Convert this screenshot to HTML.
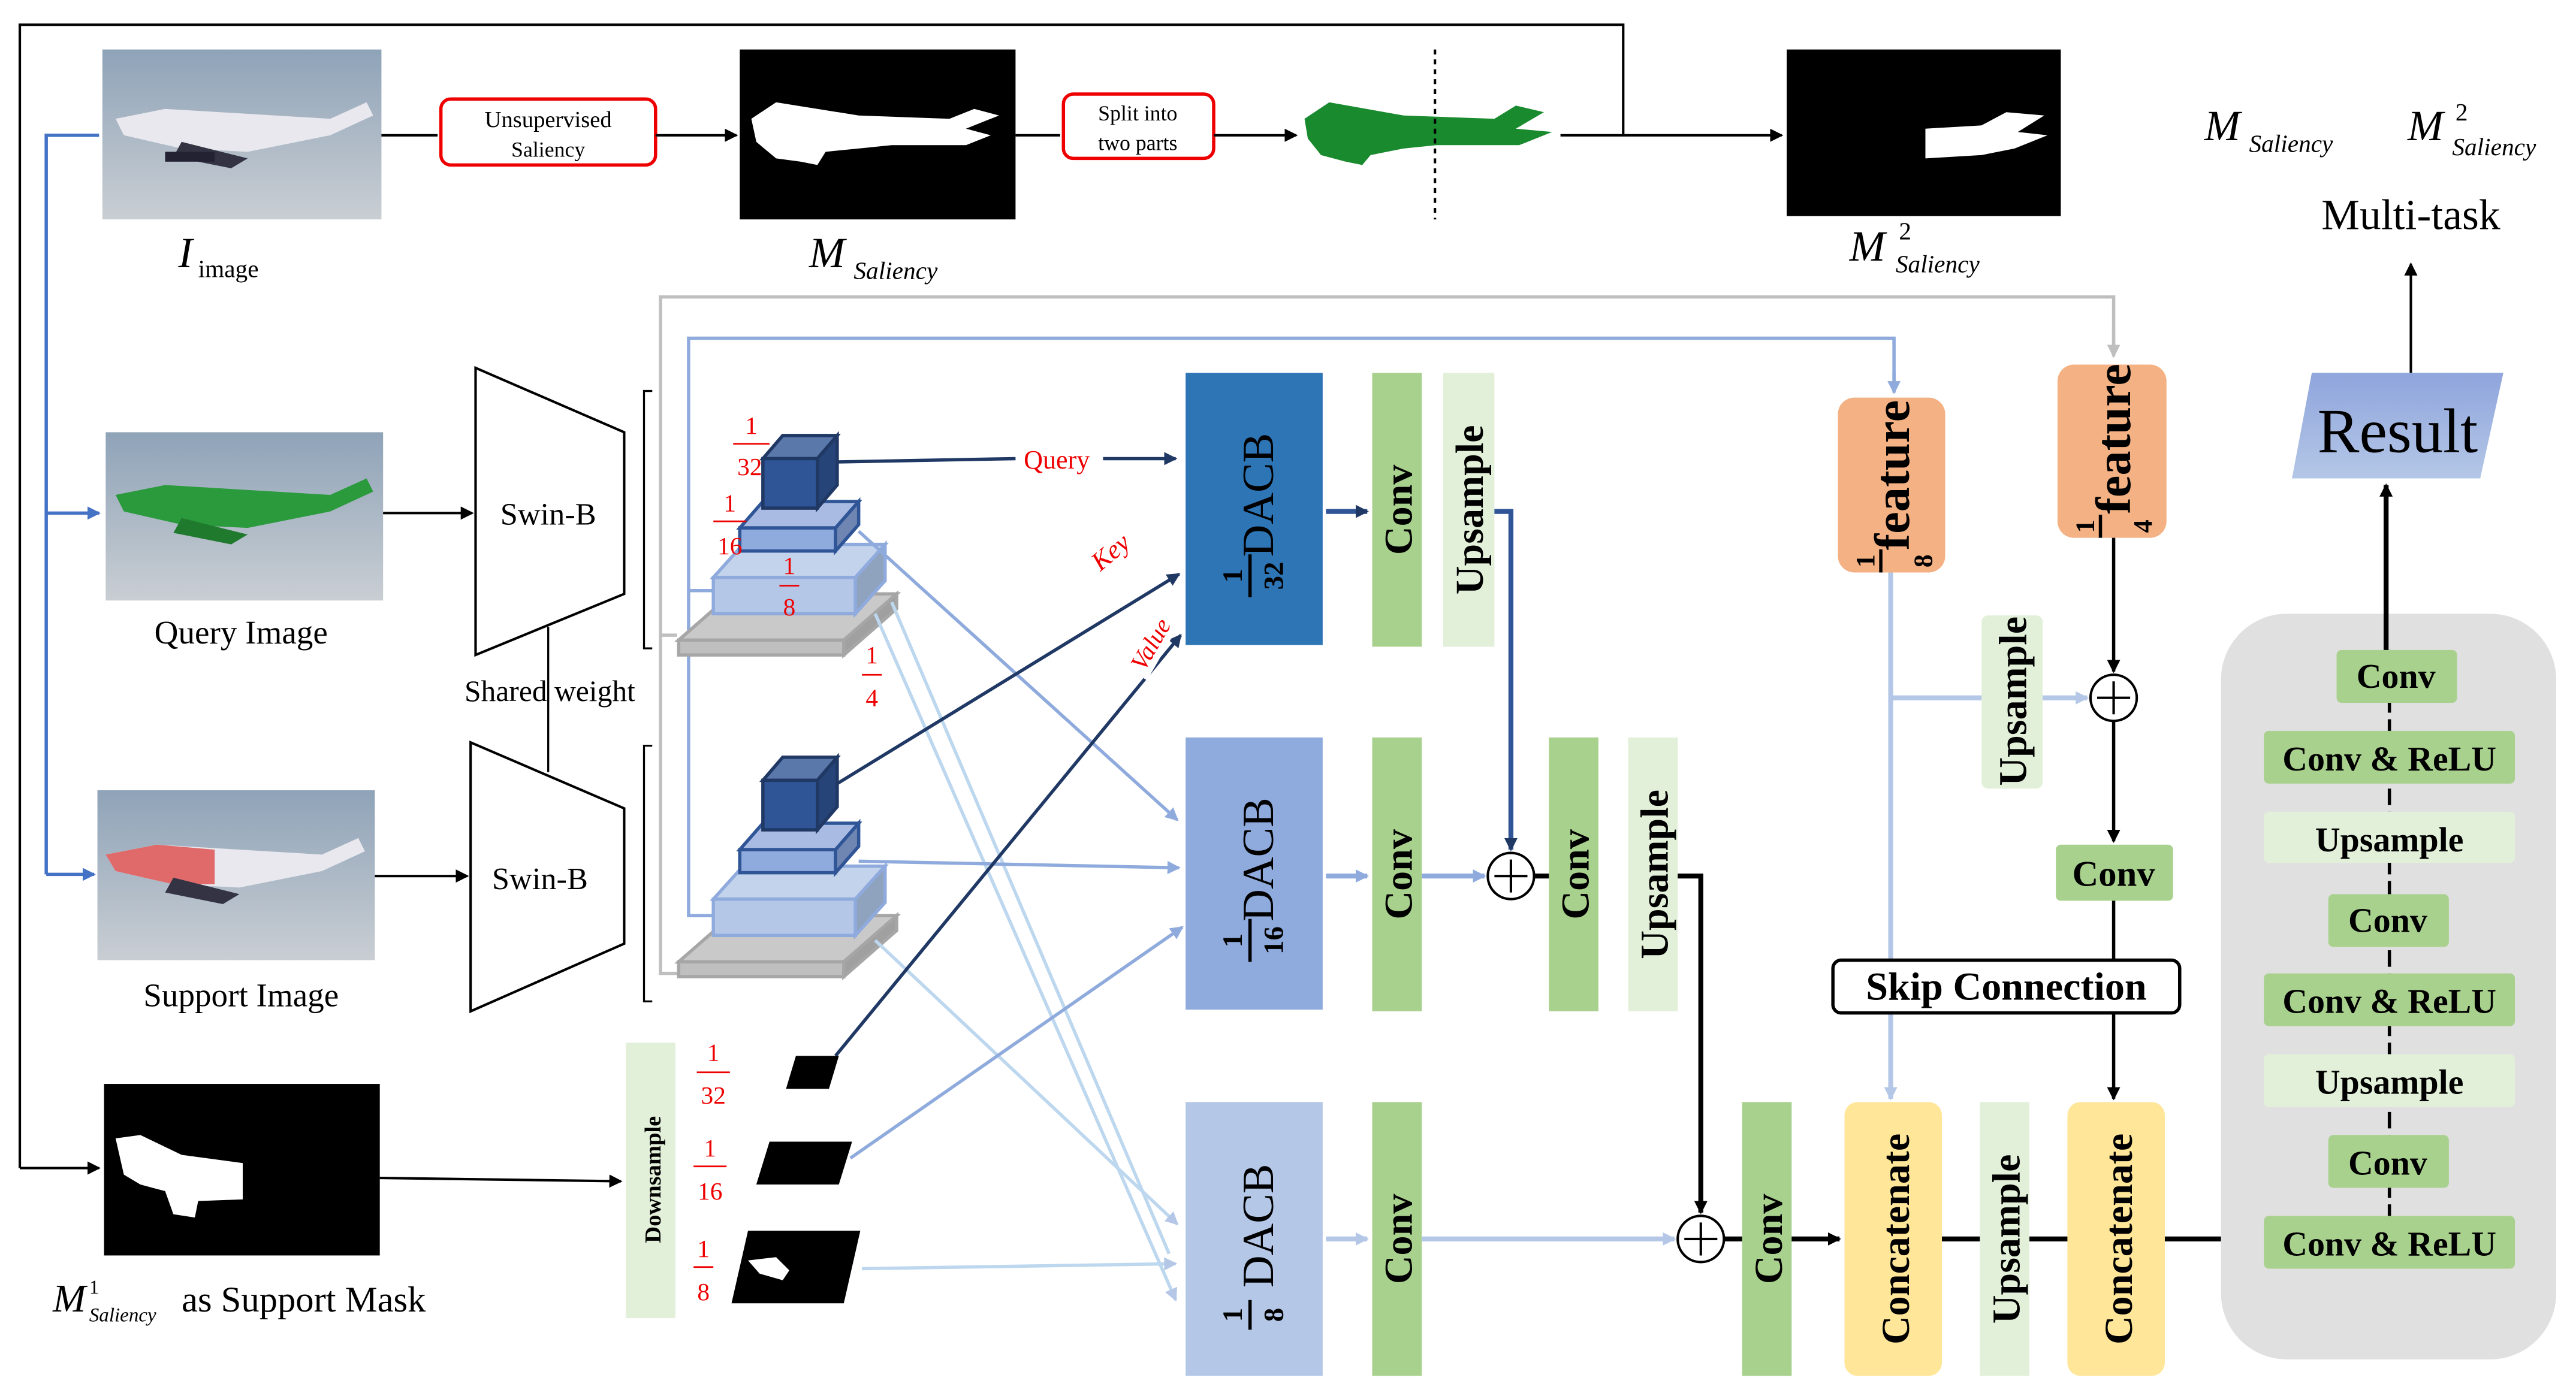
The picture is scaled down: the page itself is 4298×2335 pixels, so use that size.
<!DOCTYPE html>
<html><head><meta charset="utf-8">
<style>
html,body{margin:0;padding:0;background:#fff;}
svg{display:block;}
text{font-family:"Liberation Serif",serif;}
</style></head>
<body>
<svg width="4298" height="2335" viewBox="0 0 1560 848" preserveAspectRatio="none" xmlns="http://www.w3.org/2000/svg">
<defs>
<marker id="ak" markerWidth="8" markerHeight="8" refX="7" refY="4" orient="auto" markerUnits="userSpaceOnUse"><path d="M0,0 L8,4 L0,8 z" fill="#000"/></marker>
<marker id="an" markerWidth="8" markerHeight="8" refX="7" refY="4" orient="auto" markerUnits="userSpaceOnUse"><path d="M0,0 L8,4 L0,8 z" fill="#203864"/></marker>
<marker id="ab" markerWidth="8" markerHeight="8" refX="7" refY="4" orient="auto" markerUnits="userSpaceOnUse"><path d="M0,0 L8,4 L0,8 z" fill="#4472c4"/></marker>
<marker id="am" markerWidth="8" markerHeight="8" refX="7" refY="4" orient="auto" markerUnits="userSpaceOnUse"><path d="M0,0 L8,4 L0,8 z" fill="#8faadc"/></marker>
<marker id="al" markerWidth="8" markerHeight="8" refX="7" refY="4" orient="auto" markerUnits="userSpaceOnUse"><path d="M0,0 L8,4 L0,8 z" fill="#b4c7e7"/></marker>
<marker id="ag" markerWidth="8" markerHeight="8" refX="7" refY="4" orient="auto" markerUnits="userSpaceOnUse"><path d="M0,0 L8,4 L0,8 z" fill="#bfbfbf"/></marker>
<linearGradient id="sky" x1="0" y1="0" x2="0" y2="1"><stop offset="0" stop-color="#8fa3b8"/><stop offset="1" stop-color="#c9ced3"/></linearGradient>
<linearGradient id="res" x1="0" y1="0" x2="0" y2="1"><stop offset="0" stop-color="#8fa5dc"/><stop offset="1" stop-color="#b4c7e7"/></linearGradient>
</defs>

<polyline points="12,708 12,15 983,15 983,82" fill="none" stroke="#000" stroke-width="1.5"/>
<line x1="12" y1="708" x2="60" y2="708" stroke="#000" stroke-width="1.5" marker-end="url(#ak)"/>
<line x1="945" y1="82" x2="1079" y2="82" stroke="#000" stroke-width="1.5" marker-end="url(#ak)"/>

<polyline points="60,82 28,82 28,530" fill="none" stroke="#4472c4" stroke-width="2"/>
<line x1="28" y1="311" x2="60" y2="311" stroke="#4472c4" stroke-width="2" marker-end="url(#ab)"/>
<line x1="28" y1="530" x2="57" y2="530" stroke="#4472c4" stroke-width="2" marker-end="url(#ab)"/>

<rect x="62" y="30" width="169" height="103" fill="url(#sky)"/>
<path d="M70,72 L100,66 L200,72 L222,62 L226,70 L200,82 L150,92 L110,90 L75,82 z" fill="#e8e8ee"/>
<path d="M110,86 L150,96 L140,102 L105,95 z" fill="#334"/>
<rect x="100" y="92" width="30" height="6" fill="#223"/>
<rect x="64" y="262" width="168" height="102" fill="url(#sky)"/>
<path d="M70,300 L100,294 L200,300 L222,290 L226,298 L200,310 L150,320 L110,318 L75,310 z" fill="#2a9a3c"/>
<path d="M110,314 L150,324 L140,330 L105,323 z" fill="#1f7a2e"/>
<rect x="59" y="479" width="168" height="103" fill="url(#sky)"/>
<path d="M64,518 L95,512 L195,518 L217,508 L221,516 L195,528 L145,538 L105,536 L70,528 z" fill="#e8e8ee"/>
<path d="M64,518 L95,512 L130,515 L130,536 L105,536 L70,528 z" fill="#e06a6a"/>
<path d="M105,532 L145,542 L135,548 L100,541 z" fill="#334"/>

<line x1="231" y1="82" x2="265" y2="82" stroke="#000" stroke-width="1.5"/>
<rect x="267" y="60" width="130" height="40" rx="6" fill="#fff" stroke="#e00" stroke-width="2"/>
<text x="332" y="77" font-size="14" text-anchor="middle">Unsupervised</text>
<text x="332" y="95" font-size="13" text-anchor="middle">Saliency</text>
<line x1="397" y1="82" x2="446" y2="82" stroke="#000" stroke-width="1.5" marker-end="url(#ak)"/>
<rect x="448" y="30" width="167" height="103" fill="#000"/>
<path d="M455,72 L470,62 L520,70 L575,72 L590,66 L605,70 L585,78 L600,82 L585,88 L540,88 L520,90 L500,92 L495,100 L485,98 L470,96 L458,86 z" fill="#fff"/>
<line x1="615" y1="82" x2="642" y2="82" stroke="#000" stroke-width="1.5"/>
<rect x="644" y="57" width="91" height="39" rx="6" fill="#fff" stroke="#e00" stroke-width="2"/>
<text x="689" y="73" font-size="13" text-anchor="middle">Split into</text>
<text x="689" y="91" font-size="13" text-anchor="middle">two parts</text>
<line x1="735" y1="82" x2="785" y2="82" stroke="#000" stroke-width="1.5" marker-end="url(#ak)"/>
<path d="M790,72 L805,62 L850,70 L905,72 L918,64 L935,68 L918,78 L940,80 L920,88 L870,88 L850,90 L830,94 L825,100 L815,98 L800,94 L792,84 z" fill="#1a8a2e"/>
<line x1="869" y1="30" x2="869" y2="133" stroke="#000" stroke-width="1.5" stroke-dasharray="3,3"/>
<rect x="1082" y="30" width="166" height="101" fill="#000"/>
<path d="M1166,78 L1200,76 L1215,68 L1238,70 L1222,80 L1240,82 L1220,90 L1200,94 L1166,96 z" fill="#fff"/>

<text x="108" y="162" font-size="26" font-style="italic">I</text><text x="120" y="168" font-size="15">image</text>
<text x="490" y="162" font-size="26" font-style="italic">M</text><text x="517" y="169" font-size="15" font-style="italic">Saliency</text>
<text x="1120" y="158" font-size="26" font-style="italic">M</text><text x="1150" y="145" font-size="15">2</text><text x="1148" y="165" font-size="15" font-style="italic">Saliency</text>
<text x="1335" y="85" font-size="26" font-style="italic">M</text><text x="1362" y="92" font-size="15" font-style="italic">Saliency</text>
<text x="1458" y="85" font-size="26" font-style="italic">M</text><text x="1487" y="73" font-size="15">2</text><text x="1485" y="94" font-size="15" font-style="italic">Saliency</text>
<text x="1460" y="139" font-size="26" text-anchor="middle">Multi-task</text>
<line x1="1460" y1="226" x2="1460" y2="160" stroke="#000" stroke-width="1.5" marker-end="url(#ak)"/>

<text x="146" y="390" font-size="20" text-anchor="middle">Query Image</text>
<text x="146" y="610" font-size="20" text-anchor="middle">Support Image</text>

<line x1="232" y1="311" x2="286" y2="311" stroke="#000" stroke-width="1.5" marker-end="url(#ak)"/>
<line x1="227" y1="531" x2="283" y2="531" stroke="#000" stroke-width="1.5" marker-end="url(#ak)"/>
<polygon points="288,223 378,262 378,360 288,397" fill="#fff" stroke="#000" stroke-width="1.5"/>
<polygon points="285,450 378,490 378,572 285,613" fill="#fff" stroke="#000" stroke-width="1.5"/>
<text x="332" y="318" font-size="19" text-anchor="middle">Swin-B</text>
<text x="327" y="539" font-size="19" text-anchor="middle">Swin-B</text>
<line x1="332" y1="380" x2="332" y2="468" stroke="#000" stroke-width="1.2"/>
<rect x="278" y="408" width="112" height="22" fill="#fff"/>
<text x="333" y="425" font-size="18" text-anchor="middle">Shared weight</text>
<line x1="332" y1="408" x2="332" y2="430" stroke="#000" stroke-width="1.2"/>
<polyline points="395,237 390,237 390,393 395,393" fill="none" stroke="#000" stroke-width="1.2"/>
<polyline points="395,452 390,452 390,607 395,607" fill="none" stroke="#000" stroke-width="1.2"/>

<polyline points="410,385 400,385 400,180 1280,180 1280,212" fill="none" stroke="#bfbfbf" stroke-width="2"/>
<polyline points="410,590 400,590 400,385" fill="none" stroke="#bfbfbf" stroke-width="2"/>
<line x1="1280" y1="200" x2="1280" y2="216" stroke="#bfbfbf" stroke-width="2" marker-end="url(#ag)"/>
<polyline points="432,358 417,358 417,205 1147,205 1147,232" fill="none" stroke="#8faadc" stroke-width="2"/>
<polyline points="432,555 417,555 417,358" fill="none" stroke="#8faadc" stroke-width="2"/>
<line x1="1147" y1="225" x2="1147" y2="238" stroke="#8faadc" stroke-width="2" marker-end="url(#am)"/>

<g id="pyr">
<polygon points="411,388 443,360 543,360 511,388" fill="#c9c9c9" stroke="#a6a6a6" stroke-width="2"/>
<rect x="411" y="388" width="100" height="9" fill="#bfbfbf" stroke="#a6a6a6" stroke-width="2"/>
<polygon points="511,388 543,360 543,369 511,397" fill="#a0a0a0" stroke="#a6a6a6" stroke-width="2"/>
<polygon points="432,350 450,330 536,330 518,350" fill="#c3d3ec" stroke="#8faadc" stroke-width="2"/>
<rect x="432" y="350" width="86" height="22" fill="#b4c7e7" stroke="#8faadc" stroke-width="2"/>
<polygon points="518,350 536,330 536,352 518,372" fill="#8fa3bf" stroke="#8faadc" stroke-width="2"/>
<polygon points="448,320 462,304 520,304 506,320" fill="#a9bbe2" stroke="#2f5597" stroke-width="2"/>
<rect x="448" y="320" width="58" height="14" fill="#8faadc" stroke="#2f5597" stroke-width="2"/>
<polygon points="506,320 520,304 520,318 506,334" fill="#6f86b3" stroke="#2f5597" stroke-width="2"/>
<polygon points="462,278 474,264 507,264 495,278" fill="#5b78ab" stroke="#203864" stroke-width="2"/>
<rect x="462" y="278" width="33" height="30" fill="#2f5597" stroke="#203864" stroke-width="2"/>
<polygon points="495,278 507,264 507,294 495,308" fill="#264478" stroke="#203864" stroke-width="2"/>
</g>
<use href="#pyr" transform="translate(0,195)"/>

<g fill="#e00" font-size="15" text-anchor="middle">
<text x="455" y="263">1</text><line x1="444" y1="269" x2="466" y2="269" stroke="#e00"/><text x="454" y="288">32</text>
<text x="442" y="310">1</text><line x1="432" y1="316" x2="452" y2="316" stroke="#e00"/><text x="442" y="336">16</text>
<text x="478" y="348">1</text><line x1="472" y1="355" x2="484" y2="355" stroke="#e00"/><text x="478" y="373">8</text>
<text x="528" y="402">1</text><line x1="522" y1="409" x2="534" y2="409" stroke="#e00"/><text x="528" y="428">4</text>
<text x="432" y="643">1</text><line x1="422" y1="650" x2="442" y2="650" stroke="#e00"/><text x="432" y="669">32</text>
<text x="430" y="701">1</text><line x1="420" y1="707" x2="440" y2="707" stroke="#e00"/><text x="430" y="727">16</text>
<text x="426" y="762">1</text><line x1="420" y1="768" x2="432" y2="768" stroke="#e00"/><text x="426" y="788">8</text>
</g>

<line x1="507" y1="280" x2="615" y2="278" stroke="#203864" stroke-width="2"/>
<text x="620" y="284" font-size="16" fill="#e00">Query</text>
<line x1="668" y1="278" x2="712" y2="278" stroke="#203864" stroke-width="2" marker-end="url(#an)"/>
<line x1="520" y1="322" x2="713" y2="497" stroke="#8faadc" stroke-width="2" marker-end="url(#am)"/>
<line x1="530" y1="372" x2="712" y2="788" stroke="#bdd7ee" stroke-width="2" marker-end="url(#al)"/>
<line x1="540" y1="365" x2="708" y2="760" stroke="#bdd7ee" stroke-width="2"/>
<line x1="507" y1="475" x2="714" y2="348" stroke="#203864" stroke-width="2" marker-end="url(#an)"/>
<line x1="520" y1="522" x2="714" y2="526" stroke="#8faadc" stroke-width="2" marker-end="url(#am)"/>
<line x1="530" y1="570" x2="713" y2="742" stroke="#bdd7ee" stroke-width="2" marker-end="url(#al)"/>
<line x1="506" y1="640" x2="715" y2="385" stroke="#203864" stroke-width="2" marker-end="url(#an)"/>
<line x1="515" y1="702" x2="716" y2="562" stroke="#8faadc" stroke-width="2" marker-end="url(#am)"/>
<line x1="522" y1="769" x2="712" y2="766" stroke="#bdd7ee" stroke-width="2" marker-end="url(#al)"/>
<rect x="655" y="322" width="34" height="20" fill="#fff" transform="rotate(-40 672 332)"/>
<text x="672" y="340" font-size="16" fill="#e00" font-style="italic" text-anchor="middle" transform="rotate(-40 672 334)">Key</text>
<rect x="676" y="380" width="40" height="20" fill="#fff" transform="rotate(-60 696 390)"/>
<text x="696" y="396" font-size="15" fill="#e00" font-style="italic" text-anchor="middle" transform="rotate(-60 696 390)">Value</text>

<rect x="63" y="657" width="167" height="104" fill="#000"/>
<path d="M70,690 L85,688 L110,700 L147,705 L147,727 L120,728 L118,738 L105,736 L100,722 L85,718 L75,712 z" fill="#fff"/>
<line x1="230" y1="714" x2="376" y2="716" stroke="#000" stroke-width="1.5" marker-end="url(#ak)"/>
<rect x="379" y="632" width="30" height="167" fill="#e2f0d9"/>
<text transform="translate(400,715) rotate(-90)" font-size="14" font-weight="bold" text-anchor="middle">Downsample</text>
<polygon points="482,640 508,640 502,660 476,660" fill="#000"/>
<polygon points="466,692 516,692 508,718 458,718" fill="#000"/>
<polygon points="453,746 521,746 511,790 443,790" fill="#000"/>
<path d="M453,764 L470,762 L478,770 L474,776 L460,772 z" fill="#fff"/>
<text x="32" y="795" font-size="24" font-style="italic">M</text><text x="54" y="784" font-size="12">1</text><text x="54" y="801" font-size="12" font-style="italic">Saliency</text>
<text x="110" y="795" font-size="22">as Support Mask</text>

<rect x="718" y="226" width="83" height="165" fill="#2e75b6"/>
<rect x="718" y="447" width="83" height="165" fill="#8faadc"/>
<rect x="718" y="668" width="83" height="166" fill="#b4c7e7"/>
<g font-size="27" text-anchor="middle">
<text transform="translate(771,300) rotate(-90)">DACB</text>
<text transform="translate(771,521) rotate(-90)">DACB</text>
<text transform="translate(771,743) rotate(-90)">DACB</text>
</g>
<g font-size="17" font-weight="bold" text-anchor="middle">
<text transform="translate(752,349) rotate(-90)">1</text><line x1="757" y1="336" x2="757" y2="362" stroke="#000" stroke-width="2"/><text transform="translate(777,349) rotate(-90)">32</text>
<text transform="translate(752,570) rotate(-90)">1</text><line x1="757" y1="557" x2="757" y2="583" stroke="#000" stroke-width="2"/><text transform="translate(777,570) rotate(-90)">16</text>
<text transform="translate(752,797) rotate(-90)">1</text><line x1="757" y1="788" x2="757" y2="806" stroke="#000" stroke-width="2"/><text transform="translate(777,797) rotate(-90)">8</text>
</g>

<g font-size="24" font-weight="bold" text-anchor="middle">
<rect x="831" y="226" width="30" height="166" fill="#a9d18e"/><text transform="translate(855,309) rotate(-90)">Conv</text>
<rect x="874" y="226" width="31" height="166" fill="#e2f0d9"/><text transform="translate(898,309) rotate(-90)">Upsample</text>
<rect x="831" y="447" width="30" height="166" fill="#a9d18e"/><text transform="translate(855,530) rotate(-90)">Conv</text>
<rect x="831" y="668" width="30" height="166" fill="#a9d18e"/><text transform="translate(855,751) rotate(-90)">Conv</text>
<rect x="938" y="447" width="30" height="166" fill="#a9d18e"/><text transform="translate(962,530) rotate(-90)">Conv</text>
<rect x="986" y="447" width="30" height="166" fill="#e2f0d9"/><text transform="translate(1010,530) rotate(-90)">Upsample</text>
<rect x="1055" y="668" width="30" height="166" fill="#a9d18e"/><text transform="translate(1079,751) rotate(-90)">Conv</text>
<rect x="1117" y="668" width="59" height="166" rx="8" fill="#ffe699"/><text transform="translate(1156,751) rotate(-90)">Concatenate</text>
<rect x="1199" y="668" width="30" height="166" fill="#e2f0d9"/><text transform="translate(1223,751) rotate(-90)">Upsample</text>
<rect x="1252" y="668" width="59" height="166" rx="8" fill="#ffe699"/><text transform="translate(1291,751) rotate(-90)">Concatenate</text>
<rect x="1200" y="373" width="37" height="105" rx="4" fill="#e2f0d9"/><text transform="translate(1227,425) rotate(-90)">Upsample</text>
<rect x="1113" y="241" width="65" height="106" rx="10" fill="#f4b183"/><text transform="translate(1156,288) rotate(-90)" font-size="30">feature</text>
<rect x="1246" y="221" width="66" height="105" rx="10" fill="#f4b183"/><text transform="translate(1290,266) rotate(-90)" font-size="30">feature</text>
</g>
<g font-size="16" font-weight="bold" text-anchor="middle">
<text transform="translate(1135,340) rotate(-90)">1</text><line x1="1139" y1="333" x2="1139" y2="347" stroke="#000" stroke-width="2"/><text transform="translate(1170,340) rotate(-90)">8</text>
<text transform="translate(1268,319) rotate(-90)">1</text><line x1="1272" y1="312" x2="1272" y2="326" stroke="#000" stroke-width="2"/><text transform="translate(1303,319) rotate(-90)">4</text>
</g>

<line x1="803" y1="310" x2="828" y2="310" stroke="#2f5597" stroke-width="3" marker-end="url(#an)"/>
<line x1="803" y1="531" x2="828" y2="531" stroke="#8faadc" stroke-width="3" marker-end="url(#am)"/>
<line x1="803" y1="751" x2="828" y2="751" stroke="#b4c7e7" stroke-width="3" marker-end="url(#al)"/>
<polyline points="905,310 915,310 915,515" fill="none" stroke="#2f5597" stroke-width="3" marker-end="url(#an)"/>
<line x1="861" y1="531" x2="899" y2="531" stroke="#8faadc" stroke-width="3" marker-end="url(#am)"/>
<circle cx="915" cy="531" r="14" fill="#fff" stroke="#000" stroke-width="1.5"/>
<path d="M905,531 H925 M915,521 V541" stroke="#000" stroke-width="1.5"/>
<line x1="929" y1="531" x2="938" y2="531" stroke="#000" stroke-width="3"/>
<polyline points="1016,531 1030,531 1030,735" fill="none" stroke="#000" stroke-width="3" marker-end="url(#ak)"/>
<line x1="861" y1="751" x2="1014" y2="751" stroke="#b4c7e7" stroke-width="3" marker-end="url(#al)"/>
<circle cx="1030" cy="751" r="14" fill="#fff" stroke="#000" stroke-width="1.5"/>
<path d="M1020,751 H1040 M1030,741 V761" stroke="#000" stroke-width="1.5"/>
<line x1="1044" y1="751" x2="1055" y2="751" stroke="#000" stroke-width="3"/>
<line x1="1085" y1="751" x2="1114" y2="751" stroke="#000" stroke-width="3" marker-end="url(#ak)"/>
<line x1="1176" y1="751" x2="1199" y2="751" stroke="#000" stroke-width="3"/>
<line x1="1229" y1="751" x2="1252" y2="751" stroke="#000" stroke-width="3"/>
<line x1="1311" y1="751" x2="1367" y2="751" stroke="#000" stroke-width="3" marker-end="url(#ak)"/>
<line x1="1145" y1="347" x2="1145" y2="666" stroke="#b4c7e7" stroke-width="3" marker-end="url(#al)"/>
<line x1="1145" y1="423" x2="1200" y2="423" stroke="#b4c7e7" stroke-width="3"/>
<line x1="1237" y1="423" x2="1264" y2="423" stroke="#b4c7e7" stroke-width="3" marker-end="url(#al)"/>
<line x1="1280" y1="326" x2="1280" y2="407" stroke="#000" stroke-width="2" marker-end="url(#ak)"/>
<circle cx="1280" cy="423" r="14" fill="#fff" stroke="#000" stroke-width="1.5"/>
<path d="M1270,423 H1290 M1280,413 V433" stroke="#000" stroke-width="1.5"/>
<line x1="1280" y1="437" x2="1280" y2="510" stroke="#000" stroke-width="2" marker-end="url(#ak)"/>
<rect x="1245" y="512" width="71" height="34" rx="3" fill="#a9d18e"/>
<text x="1280" y="537" font-size="22" font-weight="bold" text-anchor="middle">Conv</text>
<line x1="1280" y1="546" x2="1280" y2="666" stroke="#000" stroke-width="2" marker-end="url(#ak)"/>
<rect x="1110" y="582" width="210" height="32" rx="5" fill="#fff" stroke="#000" stroke-width="2"/>
<text x="1215" y="606" font-size="24" font-weight="bold" text-anchor="middle">Skip Connection</text>

<rect x="1345" y="372" width="203" height="452" rx="40" fill="#e0e0e0"/>
<line x1="1447" y1="394" x2="1447" y2="769" stroke="#000" stroke-width="2" stroke-dasharray="10,4"/>
<g font-size="21" font-weight="bold" text-anchor="middle">
<rect x="1415" y="394" width="73" height="32" rx="3" fill="#a9d18e"/><text x="1451" y="417">Conv</text>
<rect x="1371" y="443" width="152" height="32" rx="3" fill="#a9d18e"/><text x="1447" y="467">Conv &amp; ReLU</text>
<rect x="1371" y="492" width="152" height="31" rx="3" fill="#e2f0d9"/><text x="1447" y="516">Upsample</text>
<rect x="1410" y="542" width="73" height="32" rx="3" fill="#a9d18e"/><text x="1446" y="565">Conv</text>
<rect x="1371" y="590" width="152" height="32" rx="3" fill="#a9d18e"/><text x="1447" y="614">Conv &amp; ReLU</text>
<rect x="1371" y="639" width="152" height="32" rx="3" fill="#e2f0d9"/><text x="1447" y="663">Upsample</text>
<rect x="1410" y="688" width="73" height="32" rx="3" fill="#a9d18e"/><text x="1446" y="712">Conv</text>
<rect x="1371" y="737" width="152" height="32" rx="3" fill="#a9d18e"/><text x="1447" y="761">Conv &amp; ReLU</text>
</g>
<line x1="1445" y1="394" x2="1445" y2="294" stroke="#000" stroke-width="3" marker-end="url(#ak)"/>
<polygon points="1400,226 1516,226 1502,290 1388,290" fill="url(#res)"/>
<text x="1452" y="274" font-size="38" text-anchor="middle">Result</text>
</svg>
</body></html>
